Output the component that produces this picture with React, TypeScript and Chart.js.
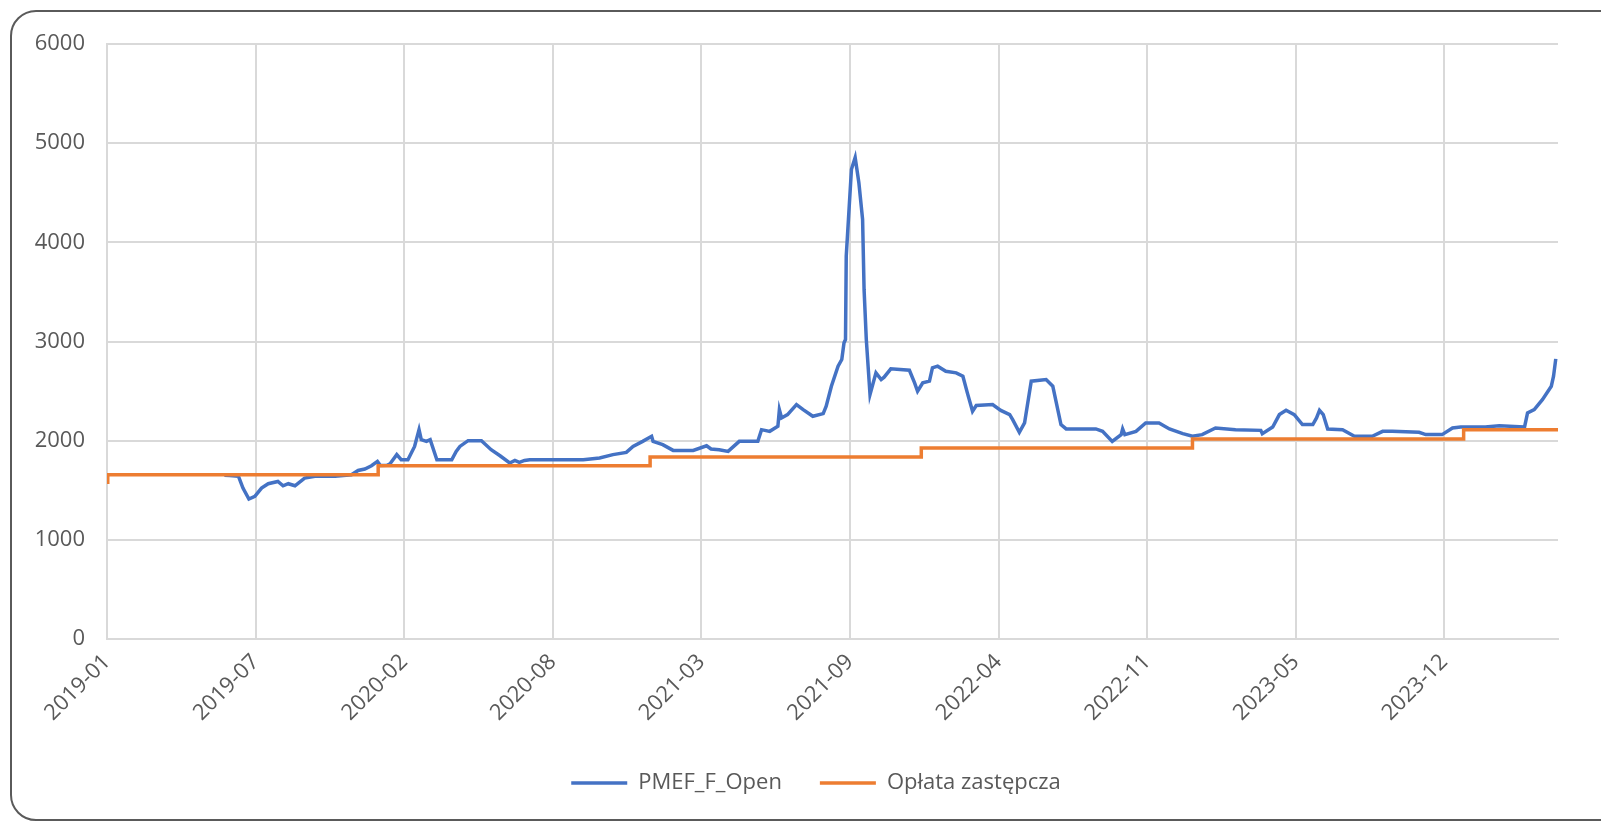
import React, { useEffect, useRef } from "react";
import { Chart, registerables } from "chart.js";

Chart.register(...registerables);

// x values are days counted from 2019-01-01
const blueDays = [
  158, 165, 177, 183, 191, 199, 208, 217, 230, 237, 244, 253, 266, 280, 307, 329, 338, 347, 356, 364,
  368, 377, 381, 390, 396, 405, 414, 420, 423, 430, 435, 444, 464, 470, 475, 486, 504, 517, 529, 542,
  549, 555, 562, 569, 641, 663, 681, 699, 708, 721, 733, 735, 748, 762, 789, 807, 813, 824, 836, 851,
  876, 881, 892, 903, 905, 908, 916, 928, 937, 950, 964, 968, 975, 984, 989, 992, 994, 995, 1002, 1007,
  1012, 1017, 1019, 1022, 1027, 1035, 1042, 1046, 1055, 1080, 1087, 1091, 1098, 1107, 1111, 1118, 1129, 1143, 1152, 1158,
  1165, 1170, 1192, 1203, 1215, 1219, 1228, 1235, 1244, 1264, 1273, 1284, 1291, 1331, 1340, 1353, 1365, 1367, 1370, 1385,
  1398, 1416, 1430, 1448, 1461, 1474, 1492, 1519, 1553, 1555, 1569, 1578, 1587, 1598, 1609, 1623, 1628, 1632, 1637, 1643,
  1663, 1679, 1703, 1717, 1730, 1766, 1775, 1797, 1811, 1822, 1855, 1874, 1908, 1912, 1921, 1932, 1944, 1947, 1950,
];
const blueValues = [
  1650, 1648, 1640, 1522, 1411, 1438, 1522, 1566, 1589, 1545, 1566, 1545, 1623, 1640, 1640, 1657, 1700, 1714, 1747, 1791,
  1750, 1752, 1768, 1859, 1808, 1808, 1942, 2111, 2010, 1993, 2010, 1808, 1808, 1892, 1942, 2000, 2000, 1909, 1848, 1775,
  1801, 1781, 1801, 1808, 1808, 1825, 1859, 1882, 1942, 1993, 2044, 1993, 1960, 1902, 1902, 1949, 1916, 1909, 1892, 1993,
  1993, 2111, 2094, 2145, 2313, 2229, 2263, 2364, 2313, 2246, 2273, 2347, 2549, 2751, 2818, 2987, 3020, 3862, 4737, 4855,
  4600, 4232, 3525, 3020, 2465, 2684, 2616, 2640, 2724, 2710, 2583, 2498, 2583, 2600, 2734, 2751, 2700, 2684, 2650, 2482,
  2296, 2354, 2364, 2305, 2263, 2212, 2084, 2179, 2600, 2616, 2549, 2162, 2118, 2118, 2094, 1993, 2061, 2118, 2061, 2094,
  2179, 2179, 2118, 2071, 2044, 2061, 2128, 2111, 2104, 2071, 2138, 2263, 2306, 2263, 2162, 2162, 2229, 2306, 2263, 2118,
  2111, 2044, 2044, 2094, 2094, 2084, 2061, 2061, 2128, 2138, 2138, 2151, 2138, 2280, 2313, 2414, 2549, 2650, 2825,
];

const orangeDays = [0, 1, 365, 731, 1096, 1461, 1826, 1953];
const orangeValues = [1580, 1657, 1747, 1835, 1926, 2017, 2111, 2111];

const seriesNames = ["PMEF_F_Open", "Opłata zastępcza"];
const seriesColors = ["#4472C4", "#ED7D31"];

const axisStartUTC = Date.UTC(2019, 0, 1);
const xMax = 1953;
const xStep = 200;
const yMax = 6000;
const yStep = 1000;

function dayLabel(day: number): string {
  const d = new Date(axisStartUTC + day * 86400000);
  const m = d.getUTCMonth() + 1;
  return `${d.getUTCFullYear()}-${m < 10 ? "0" + m : m}`;
}

const FONT = "'Open Sans', 'Noto Sans', sans-serif";
const TEXT = "#595959";
const GRID = "#d9d9d9";

const legendShift = {
  id: "legendShift",
  afterLayout(chart: any) {
    const l = chart.legend;
    if (l) {
      l.left += 27;
      l.right += 27;
    }
  },
};

export default function App() {
  const ref = useRef<HTMLCanvasElement | null>(null);

  useEffect(() => {
    if (!ref.current) return;
    const chart = new Chart(ref.current, {
      type: "line",
      data: {
        datasets: [
          {
            label: seriesNames[0],
            data: blueDays.map((d, i) => ({ x: d, y: blueValues[i] })),
            borderColor: seriesColors[0],
            backgroundColor: seriesColors[0],
            borderWidth: 3.5,
            pointRadius: 0,
            tension: 0,
            order: 1,
          },
          {
            label: seriesNames[1],
            data: orangeDays.map((d, i) => ({ x: d, y: orangeValues[i] })),
            borderColor: seriesColors[1],
            backgroundColor: seriesColors[1],
            borderWidth: 3.5,
            pointRadius: 0,
            stepped: "before",
            order: 0,
          },
        ],
      },
      plugins: [legendShift],
      options: {
        animation: false,
        responsive: false,
        maintainAspectRatio: false,
        devicePixelRatio: 1,
        layout: { padding: { left: 20, right: 43, top: 44, bottom: 20 } },
        plugins: {
          tooltip: { enabled: false },
          legend: {
            position: "bottom",
            labels: {
              usePointStyle: true,
              pointStyle: "line",
              pointStyleWidth: 56,
              padding: 38,
              color: TEXT,
              font: { family: FONT, size: 22 },
              sort: (a: any, b: any) => a.datasetIndex - b.datasetIndex,
            },
          },
        },
        scales: {
          x: {
            type: "linear",
            min: 0,
            max: xMax,
            afterFit: (s: any) => {
              s.height = 95;
            },
            ticks: {
              stepSize: xStep,
              includeBounds: false,
              autoSkip: false,
              minRotation: 45,
              maxRotation: 45,
              padding: 10,
              color: TEXT,
              font: { family: FONT, size: 22 },
              callback: (v: any) => dayLabel(Number(v)),
            },
            grid: { color: GRID, lineWidth: 2, drawTicks: false },
            border: { color: GRID, width: 2 },
          },
          y: {
            min: 0,
            max: yMax,
            afterFit: (s: any) => {
              s.width = 87;
            },
            ticks: {
              stepSize: yStep,
              padding: 22,
              color: TEXT,
              font: { family: FONT, size: 22 },
              callback: (v: any) => String(v),
            },
            grid: { color: GRID, lineWidth: 2, drawTicks: false },
            border: { color: GRID, width: 2 },
          },
        },
      },
    });
    return () => chart.destroy();
  }, []);

  return (
    <div
      style={{
        position: "fixed",
        left: 0,
        top: 0,
        width: 1601,
        height: 824,
        overflow: "hidden",
        background: "#fff",
      }}
    >
      <div
        style={{
          position: "absolute",
          left: 10,
          top: 10,
          width: 1620,
          height: 811,
          border: "2px solid #5a5a5a",
          borderRadius: 26,
          boxSizing: "border-box",
        }}
      />
      <canvas
        ref={ref}
        width={1601}
        height={824}
        style={{ position: "absolute", left: 0, top: 0, width: 1601, height: 824 }}
      />
    </div>
  );
}
